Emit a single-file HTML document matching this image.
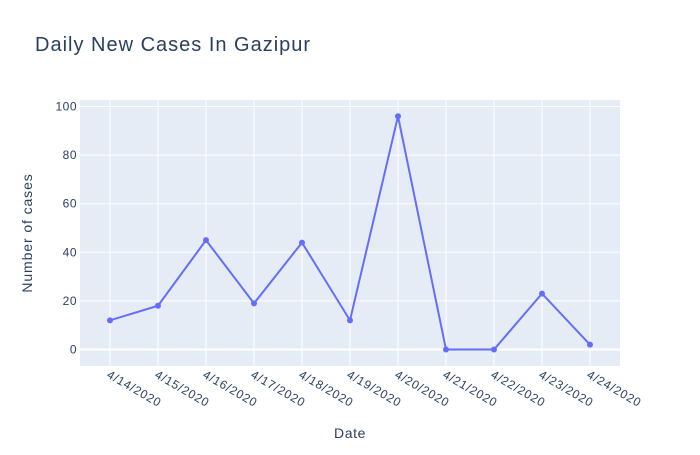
<!DOCTYPE html>
<html><head><meta charset="utf-8"><style>
body{margin:0;background:#fff;font-family:"Liberation Sans","DejaVu Sans",sans-serif}
svg text{font-family:"Liberation Sans","DejaVu Sans",sans-serif}
</style></head><body>
<svg id="chart" width="700" height="450">
<rect x="0" y="0" width="700" height="450" fill="#fff"/>
<text x="35" y="51" font-size="20" letter-spacing="1" fill="#2a3f5f">Daily New Cases In Gazipur</text>
<rect x="80" y="100" width="540" height="266" fill="#e5ecf6"/>
<g id="grid"></g>
<g id="series"></g>
<g id="ticks"></g>
<text x="350" y="438" font-size="14" letter-spacing="0.6" fill="#2a3f5f" text-anchor="middle">Date</text>
<text transform="translate(32,233) rotate(-90)" font-size="14" letter-spacing="0.9" fill="#2a3f5f" text-anchor="middle">Number of cases</text>
</svg>
<script>
const categories=["4/14/2020","4/15/2020","4/16/2020","4/17/2020","4/18/2020","4/19/2020","4/20/2020","4/21/2020","4/22/2020","4/23/2020","4/24/2020"];
const cases=[12,18,45,19,44,12,96,0,0,23,2];
const yTicks=[0,20,40,60,80,100];
const NS="http://www.w3.org/2000/svg";
function xs(i){return 110+i*48;}
function ys(v){return 349.5-v*2.43;}
function mk(t,a,p){const e=document.createElementNS(NS,t);for(const k in a)e.setAttribute(k,a[k]);p.appendChild(e);return e;}
const grid=document.getElementById('grid'),ticks=document.getElementById('ticks'),series=document.getElementById('series');
yTicks.forEach(v=>{
 const l=mk('line',{x1:80,x2:620,y1:ys(v),y2:ys(v),stroke:'#fff','stroke-width':v===0?2:1},grid);
 
 
 const t=mk('text',{x:77,y:ys(v)+4,'font-size':12,'letter-spacing':0.5,fill:'#2a3f5f','text-anchor':'end'},ticks);
 t.textContent=v;
 
 
});
categories.forEach((c,i)=>{
 const l=mk('line',{x1:xs(i),x2:xs(i),y1:100,y2:366,stroke:'#fff','stroke-width':1},grid);
 
 
 const t=mk('text',{transform:`translate(${xs(i)-4},${377}) rotate(30)`,'font-size':12,'letter-spacing':0.8,fill:'#2a3f5f'},ticks);
 t.textContent=c;
 
 
});
const pl=mk('polyline',{points:cases.map((v,i)=>xs(i)+','+ys(v)).join(' '),fill:'none',stroke:'#636efa','stroke-width':2},series);


cases.forEach((v,i)=>{
 const c=mk('circle',{cx:xs(i),cy:ys(v),r:3,fill:'#636efa'},series);
 
 
});
</script>
</body></html>
